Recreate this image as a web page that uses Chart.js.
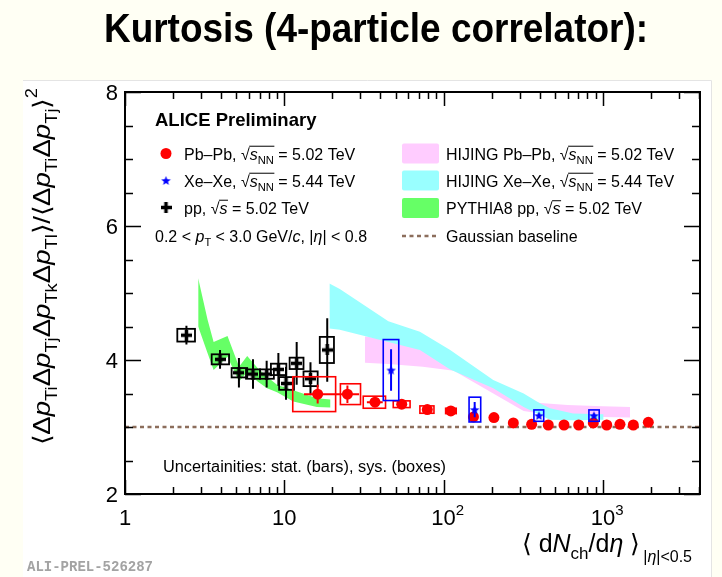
<!DOCTYPE html>
<html>
<head>
<meta charset="utf-8">
<script src="https://cdn.jsdelivr.net/npm/chart.js@4/dist/chart.umd.min.js"></script>
<style>
  html, body { margin: 0; padding: 0; background: #fffff4; }
  canvas { display: block; }
</style>
</head>
<body>
<canvas id="kurt" width="722" height="577"></canvas>
<script>
// ---- Pb–Pb, sqrt(sNN) = 5.02 TeV ----
const pbX      = [16.2, 24.9, 37.1, 54.6, 79.0, 111, 154, 207, 274, 357, 454, 570, 705, 871, 1057, 1280, 1552, 1928];
const pbY      = [3.49, 3.49, 3.37, 3.34, 3.26, 3.24, 3.15, 3.14, 3.06, 3.04, 3.03, 3.03, 3.03, 3.06, 3.03, 3.04, 3.03, 3.07];
const pbStat   = [0.14, 0.13, 0.07, 0.04, 0.03, 0.03, 0.02, 0.02, 0.02, 0.02, 0.02, 0.02, 0.02, 0.02, 0.02, 0.02, 0.02, 0.02];
const pbSys    = [0.26, 0.155, 0.09, 0.05, 0.055, 0.04, 0.02, 0.02, 0.02, 0.02, 0.02, 0.02, 0.02, 0.02, 0.02, 0.02, 0.02, 0.02];
const pbSysXLo = [11.3, 22.5, 31.3, 48.3, 71, 103, 150, 201, 266, 347, 441, 553, 684, 845, 1025, 1242, 1505, 1870];
const pbSysXHi = [21.0, 30.1, 43.2, 61.6, 87, 120, 158, 213, 282, 367, 467, 587, 726, 897, 1089, 1318, 1599, 1986];
const pbBarXLo = [13.3, 20.5, 33.0, null, null, null, null, null, null, null, null, null, null, null, null, null, null, null];
const pbBarXHi = [20.7, 29.5, 41.5, null, null, null, null, null, null, null, null, null, null, null, null, null, null, null];

// ---- Xe–Xe, sqrt(sNN) = 5.44 TeV ----
const xeX      = [46.8, 156.7, 397, 879];
const xeY      = [3.85, 3.26, 3.17, 3.17];
const xeStat   = [0.31, 0.115, 0.03, 0.03];
const xeSys    = [0.455, 0.185, 0.085, 0.085];
const xeSysXLo = [41.8, 144.5, 369, 817];
const xeSysXHi = [52.3, 171, 425, 948];

// ---- pp, sqrt(s) = 5.02 TeV ----
const ppX      = [2.43, 3.95, 5.19, 6.36, 7.75, 9.18, 10.25, 11.96, 14.6, 18.6];
const ppY      = [4.37, 4.01, 3.81, 3.79, 3.79, 3.86, 3.65, 3.95, 3.72, 4.15];
const ppStat   = [0.14, 0.14, 0.22, 0.22, 0.20, 0.245, 0.245, 0.32, 0.245, 0.475];
const ppSys    = [0.095, 0.075, 0.07, 0.07, 0.07, 0.085, 0.095, 0.085, 0.11, 0.195];
const ppSysXLo = [2.13, 3.50, 4.67, 5.75, 7.04, 8.24, 9.28, 10.8, 13.2, 16.7];
const ppSysXHi = [2.75, 4.50, 5.85, 7.04, 8.60, 10.3, 11.5, 13.2, 16.2, 20.5];

// ---- model bands ----
const hijXeX  = [19.2, 22.3, 45, 71, 110, 205, 318, 404, 465, 650, 1010];
const hijXeHi = [5.14, 5.06, 4.58, 4.42, 4.15, 3.70, 3.50, 3.35, 3.28, 3.20, 3.19];
const hijXeLo = [4.47, 4.45, 4.27, 4.15, 3.86, 3.58, 3.30, 3.18, 3.11, 3.10, 3.11];

const hijPbX  = [32.1, 45, 74, 116, 205, 318, 404, 600, 1000, 1480];
const hijPbHi = [4.35, 4.31, 4.14, 3.95, 3.62, 3.42, 3.36, 3.33, 3.31, 3.30];
const hijPbLo = [3.96, 3.94, 3.90, 3.84, 3.50, 3.24, 3.20, 3.17, 3.15, 3.14];

const pyX  = [2.88, 3.3, 3.6, 4.4, 5.2, 5.85, 6.8, 7.8, 9.0, 11.4, 16.0, 19.5];
const pyHi = [5.22, 4.60, 4.27, 4.36, 3.90, 4.06, 3.88, 3.75, 3.63, 3.55, 3.43, 3.41];
const pyLo = [4.50, 4.10, 3.85, 4.05, 3.68, 3.82, 3.68, 3.58, 3.52, 3.38, 3.30, 3.29];

// Gaussian baseline
const baselineValue = 3;

// ---- axes ----
const xMin = 1, xMax = 4070;
const yMin = 2, yMax = 8;
const xTickVals = [1, 10, 100, 1000];
const xTickBase = ['1', '10', '10', '10'];
const xTickExp  = ['', '', '2', '3'];
const yTickVals = [2, 4, 6, 8];
const yTickLabels = ['2', '4', '6', '8'];

const FONT = "'Liberation Sans', Arial, Helvetica, sans-serif";
const RED = '#ff0000', BLUE = '#0000ff', BLACK = '#000000';
const C_PINK = '#ffccff', C_CYAN = '#99ffff', C_GREEN = '#66ff66', C_BROWN = '#8c6e5c';

const pts = (xs, ys) => xs.map((x, i) => ({ x, y: ys[i] }));

// marker images
function makeStar(size, color) {
  const c = document.createElement('canvas');
  c.width = c.height = size;
  const g = c.getContext('2d');
  const R = size / 2 - 0.5, r = R * 0.42, cx = size / 2, cy = size / 2 + 0.5;
  g.beginPath();
  for (let k = 0; k < 10; k++) {
    const a = -Math.PI / 2 + k * Math.PI / 5;
    const rr = k % 2 === 0 ? R : r;
    g.lineTo(cx + rr * Math.cos(a), cy + rr * Math.sin(a));
  }
  g.closePath();
  g.fillStyle = color;
  g.fill();
  return c;
}
function makeCross(size, thick, color) {
  const c = document.createElement('canvas');
  c.width = c.height = size;
  const g = c.getContext('2d');
  g.fillStyle = color;
  g.fillRect((size - thick) / 2, 0, thick, size);
  g.fillRect(0, (size - thick) / 2, size, thick);
  return c;
}
const starImg = makeStar(11, BLUE);
const crossImg = makeCross(11, 3.5, BLACK);

// rich text: parts = [{t, s, i, b, dy, ov}]
function partFont(p) {
  return (p.i ? 'italic ' : '') + (p.b ? 'bold ' : '') + p.s + 'px ' + FONT;
}
function measureParts(ctx, parts) {
  let w = 0;
  for (const p of parts) {
    ctx.font = partFont(p);
    p.w = ctx.measureText(p.t).width + (p.gap || 0);
    w += p.w;
  }
  return w;
}
function drawParts(ctx, x, y, parts, color) {
  measureParts(ctx, parts);
  ctx.save();
  ctx.fillStyle = color;
  ctx.strokeStyle = color;
  ctx.textAlign = 'left';
  ctx.textBaseline = 'alphabetic';
  let cx = x, ovStart = null;
  for (const p of parts) {
    ctx.font = partFont(p);
    ctx.fillText(p.t, cx + (p.gap || 0), y + (p.dy || 0));
    if (p.ov && p.ov.includes('s')) ovStart = cx - 0.5;
    if (p.ov && p.ov.includes('e')) {
      ctx.lineWidth = 1;
      ctx.beginPath();
      const oy = y - p.ovY;
      ctx.moveTo(ovStart, oy);
      ctx.lineTo(cx + p.w + 0.5, oy);
      ctx.stroke();
    }
    cx += p.w;
  }
  ctx.restore();
  return cx - x;
}
function sqrtS(size, nn) {
  const parts = [{ t: '\u221A', s: size }];
  if (nn) {
    parts.push({ t: 's', s: size, i: true, ov: 's' });
    parts.push({ t: 'NN', s: size * 0.7, dy: size * 0.25, ov: 'e', ovY: size * 0.83 });
  } else {
    parts.push({ t: 's', s: size, i: true, ov: 'se', ovY: size * 0.83 });
  }
  return parts;
}

// errors (stat bars + sys boxes) are drawn just before their marker dataset
const errorPlugin = {
  id: 'errors',
  beforeDatasetDraw(chart, args) {
    const ds = chart.data.datasets[args.index];
    const e = ds.errors;
    if (!e) return;
    const xs = chart.scales.x, ys = chart.scales.y, ctx = chart.ctx;
    ctx.save();
    ctx.strokeStyle = e.color;
    ctx.lineWidth = e.boxWidth;
    for (let i = 0; i < e.x.length; i++) {
      const x0 = xs.getPixelForValue(e.sysXLo[i]), x1 = xs.getPixelForValue(e.sysXHi[i]);
      const y0 = ys.getPixelForValue(e.y[i] + e.sys[i]), y1 = ys.getPixelForValue(e.y[i] - e.sys[i]);
      ctx.strokeRect(x0, y0, x1 - x0, y1 - y0);
    }
    ctx.lineWidth = e.barWidth;
    ctx.beginPath();
    for (let i = 0; i < e.x.length; i++) {
      const px = xs.getPixelForValue(e.x[i]);
      ctx.moveTo(px, ys.getPixelForValue(e.y[i] + e.stat[i]));
      ctx.lineTo(px, ys.getPixelForValue(e.y[i] - e.stat[i]));
      if (e.barXLo && e.barXLo[i] != null) {
        const py = ys.getPixelForValue(e.y[i]);
        ctx.moveTo(xs.getPixelForValue(e.barXLo[i]), py);
        ctx.lineTo(xs.getPixelForValue(e.barXHi[i]), py);
      }
    }
    ctx.stroke();
    ctx.restore();
  }
};

// page background and white panel
const backgroundPlugin = {
  id: 'panel',
  beforeDraw(chart) {
    const ctx = chart.ctx;
    ctx.save();
    ctx.fillStyle = '#fffff4';
    ctx.fillRect(0, 0, chart.width, chart.height);
    ctx.fillStyle = '#ffffff';
    ctx.fillRect(23, 80, 689, 497);
    ctx.strokeStyle = '#e4e4e4';
    ctx.lineWidth = 1;
    ctx.beginPath();
    ctx.moveTo(23, 80.5); ctx.lineTo(711.5, 80.5); ctx.lineTo(711.5, 577);
    ctx.stroke();
    ctx.restore();
  }
};

// frame, ticks, labels, legend and captions
const framePlugin = {
  id: 'frame',
  afterDraw(chart) {
    const ctx = chart.ctx, xs = chart.scales.x, ys = chart.scales.y;
    const { left, right, top, bottom } = chart.chartArea;
    ctx.save();
    ctx.strokeStyle = BLACK;
    ctx.lineWidth = 2;
    ctx.strokeRect(left, top, right - left, bottom - top);

    // x ticks (log): decades long, 2..9 short
    ctx.lineWidth = 1.5;
    ctx.beginPath();
    for (let d = 1; d <= xMax; d *= 10) {
      for (let m = 1; m <= 9; m++) {
        const v = d * m;
        if (v > xMax) break;
        const px = Math.round(xs.getPixelForValue(v)) + 0.5;
        const len = m === 1 ? 14 : 7;
        ctx.moveTo(px, bottom); ctx.lineTo(px, bottom - len);
        ctx.moveTo(px, top); ctx.lineTo(px, top + len);
      }
    }
    // y ticks every 0.5
    for (let v = yMin; v <= yMax + 1e-9; v += 0.5) {
      const py = Math.round(ys.getPixelForValue(v)) + 0.5;
      const len = Math.abs(v % 2) < 1e-9 ? 16 : 8;
      ctx.moveTo(left, py); ctx.lineTo(left + len, py);
      ctx.moveTo(right, py); ctx.lineTo(right - len, py);
    }
    ctx.stroke();

    // tick labels
    ctx.fillStyle = BLACK;
    ctx.textBaseline = 'alphabetic';
    ctx.textAlign = 'right';
    ctx.font = '22px ' + FONT;
    yTickVals.forEach((v, i) => {
      ctx.fillText(yTickLabels[i], left - 7, ys.getPixelForValue(v) + 8);
    });
    xTickVals.forEach((v, i) => {
      const parts = [{ t: xTickBase[i], s: 22 }];
      if (xTickExp[i]) parts.push({ t: xTickExp[i], s: 15, dy: -10 });
      measureParts(ctx, parts);
      const baseW = parts[0].w;
      drawParts(ctx, xs.getPixelForValue(v) - baseW / 2, 525, parts, BLACK);
    });

    // x title
    const xt = [
      { t: '\u27E8 d', s: 25 }, { t: 'N', s: 25, i: true }, { t: 'ch', s: 17, dy: 7 },
      { t: '/d', s: 25 }, { t: '\u03B7', s: 25, i: true }, { t: ' \u27E9', s: 25 },
      { t: '|', s: 16, dy: 10, gap: 3 }, { t: '\u03B7', s: 16, i: true, dy: 10 }, { t: '|<0.5', s: 16, dy: 10 }
    ];
    const xtw = measureParts(ctx, xt);
    drawParts(ctx, 692 - xtw, 552, xt, BLACK);

    // y title (rotated)
    const S = 24, s = 16, sd = 7;
    const dp = (sub) => [{ t: '\u0394', s: S }, { t: 'p', s: S, i: true }, { t: 'T' + sub, s: s, dy: sd }];
    const yt = [].concat(
      [{ t: '\u27E8', s: S }], dp('i'), dp('j'), dp('k'), dp('l'),
      [{ t: '\u27E9/\u27E8', s: S }], dp('i'), dp('j'),
      [{ t: '\u27E9', s: S }, { t: '2', s: s, dy: -13 }]
    );
    const ytw = measureParts(ctx, yt);
    ctx.save();
    ctx.translate(50, 445);
    ctx.rotate(-Math.PI / 2);
    ctx.scale(357 / ytw, 1);
    drawParts(ctx, 0, 0, yt, BLACK);
    ctx.restore();

    // ALICE label and legend (left column)
    ctx.textAlign = 'left';
    ctx.font = 'bold 18.5px ' + FONT;
    ctx.fillText('ALICE Preliminary', 155, 126);

    const L = 16;
    ctx.fillStyle = RED;
    ctx.beginPath(); ctx.arc(166, 153.5, 5.5, 0, Math.PI * 2); ctx.fill();
    ctx.drawImage(starImg, 166 - 5.5, 180.5 - 5.5);
    ctx.drawImage(crossImg, 166 - 5.5, 207.5 - 5.5);

    drawParts(ctx, 184, 159.5, [{ t: 'Pb\u2013Pb, ', s: L }].concat(sqrtS(L, true), [{ t: ' = 5.02 TeV', s: L }]), BLACK);
    drawParts(ctx, 184, 186.5, [{ t: 'Xe\u2013Xe, ', s: L }].concat(sqrtS(L, true), [{ t: ' = 5.44 TeV', s: L }]), BLACK);
    drawParts(ctx, 184, 213.5, [{ t: 'pp, ', s: L }].concat(sqrtS(L, false), [{ t: ' = 5.02 TeV', s: L }]), BLACK);
    drawParts(ctx, 155, 241.5, [
      { t: '0.2 < ', s: L }, { t: 'p', s: L, i: true }, { t: 'T', s: 11, dy: 4 },
      { t: ' < 3.0 GeV/', s: L }, { t: 'c', s: L, i: true }, { t: ', |', s: L },
      { t: '\u03B7', s: L, i: true }, { t: '| < 0.8', s: L }
    ], BLACK);

    // legend (right column)
    const swatch = (y, col) => {
      ctx.fillStyle = col;
      ctx.beginPath();
      ctx.roundRect(402, y, 37, 20, 2);
      ctx.fill();
    };
    swatch(143.5, C_PINK);
    swatch(170.5, C_CYAN);
    swatch(198, C_GREEN);
    ctx.strokeStyle = C_BROWN;
    ctx.lineWidth = 2.5;
    ctx.setLineDash([4, 3.5]);
    ctx.beginPath(); ctx.moveTo(402, 236); ctx.lineTo(437, 236); ctx.stroke();
    ctx.setLineDash([]);

    drawParts(ctx, 446, 159.5, [{ t: 'HIJING Pb\u2013Pb, ', s: L }].concat(sqrtS(L, true), [{ t: ' = 5.02 TeV', s: L }]), BLACK);
    drawParts(ctx, 446, 186.5, [{ t: 'HIJING Xe\u2013Xe, ', s: L }].concat(sqrtS(L, true), [{ t: ' = 5.44 TeV', s: L }]), BLACK);
    drawParts(ctx, 446, 214, [{ t: 'PYTHIA8 pp, ', s: L }].concat(sqrtS(L, false), [{ t: ' = 5.02 TeV', s: L }]), BLACK);
    drawParts(ctx, 446, 241.5, [{ t: 'Gaussian baseline', s: L }], BLACK);

    // uncertainty note
    ctx.fillStyle = BLACK;
    ctx.font = '16px ' + FONT;
    const note = 'Uncertainities: stat. (bars), sys. (boxes)';
    const nw = ctx.measureText(note).width;
    ctx.save();
    ctx.translate(163, 472);
    ctx.scale(283 / nw, 1);
    ctx.fillText(note, 0, 0);
    ctx.restore();

    // page title
    ctx.font = 'bold 40px ' + FONT;
    const title = 'Kurtosis (4-particle correlator):';
    const tw = ctx.measureText(title).width;
    ctx.save();
    ctx.translate(104, 42);
    ctx.scale(544 / tw, 1);
    ctx.fillText(title, 0, 0);
    ctx.restore();

    // preliminary tag
    ctx.fillStyle = '#a3a3a3';
    ctx.font = 'bold 14px "Liberation Mono", "DejaVu Sans Mono", monospace';
    ctx.fillText('ALI-PREL-526287', 27, 571);

    ctx.restore();
  }
};

const bandLine = (data, color, fill) => ({
  data, showLine: true, fill, backgroundColor: color,
  borderColor: 'rgba(0,0,0,0)', borderWidth: 1, pointRadius: 0, tension: 0
});

new Chart(document.getElementById('kurt'), {
  type: 'scatter',
  data: {
    datasets: [
      {
        label: 'Xe–Xe', data: pts(xeX, xeY), pointStyle: starImg, pointRadius: 5,
        errors: { x: xeX, y: xeY, stat: xeStat, sys: xeSys, sysXLo: xeSysXLo, sysXHi: xeSysXHi, color: BLUE, boxWidth: 1.6, barWidth: 2 }
      },
      {
        label: 'Pb–Pb', data: pts(pbX, pbY), pointStyle: 'circle', pointRadius: 5.5,
        backgroundColor: RED, borderWidth: 0,
        errors: { x: pbX, y: pbY, stat: pbStat, sys: pbSys, sysXLo: pbSysXLo, sysXHi: pbSysXHi, barXLo: pbBarXLo, barXHi: pbBarXHi, color: RED, boxWidth: 1.6, barWidth: 2 }
      },
      {
        label: 'pp', data: pts(ppX, ppY), pointStyle: crossImg, pointRadius: 5,
        errors: { x: ppX, y: ppY, stat: ppStat, sys: ppSys, sysXLo: ppSysXLo, sysXHi: ppSysXHi, color: BLACK, boxWidth: 1.8, barWidth: 2 }
      },
      {
        label: 'Gaussian baseline', data: [{ x: xMin, y: baselineValue }, { x: xMax, y: baselineValue }],
        showLine: true, borderColor: C_BROWN, borderWidth: 2.5, borderDash: [4, 3.5], pointRadius: 0, fill: false
      },
      Object.assign({ label: 'HIJING Xe–Xe' }, bandLine(pts(hijXeX, hijXeHi), C_CYAN, '+1')),
      bandLine(pts(hijXeX, hijXeLo), C_CYAN, false),
      Object.assign({ label: 'HIJING Pb–Pb' }, bandLine(pts(hijPbX, hijPbHi), C_PINK, '+1')),
      bandLine(pts(hijPbX, hijPbLo), C_PINK, false),
      Object.assign({ label: 'PYTHIA8 pp' }, bandLine(pts(pyX, pyHi), C_GREEN, '+1')),
      bandLine(pts(pyX, pyLo), C_GREEN, false)
    ]
  },
  options: {
    responsive: false,
    animation: false,
    devicePixelRatio: 1,
    events: [],
    layout: { padding: { left: 125, right: 22, top: 92, bottom: 83 } },
    scales: {
      x: { type: 'logarithmic', min: xMin, max: xMax, display: false },
      y: { type: 'linear', min: yMin, max: yMax, display: false }
    },
    plugins: {
      legend: { display: false },
      tooltip: { enabled: false },
      filler: { propagate: false }
    }
  },
  plugins: [backgroundPlugin, errorPlugin, framePlugin]
});
</script>
</body>
</html>
